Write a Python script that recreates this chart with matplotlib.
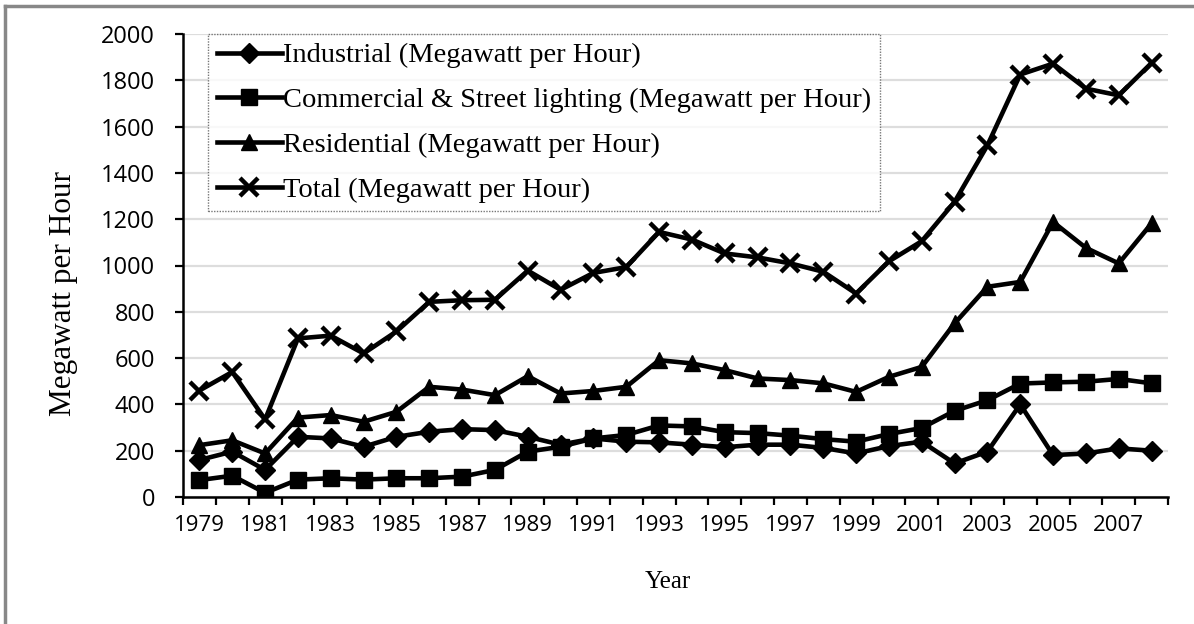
import matplotlib
matplotlib.use("Agg")
import matplotlib.pyplot as plt
from matplotlib.lines import Line2D
import numpy as np

years = list(range(1979, 2009))
industrial = [160, 196, 117, 260, 253, 217, 260, 282, 293, 289,
              260, 226, 253, 239, 236, 226, 215, 226, 226, 212,
              188, 220, 239, 145, 196, 400, 181, 188, 210, 200]
commercial = [73, 92, 18, 75, 81, 75, 81, 81, 88, 117,
              196, 217, 253, 268, 309, 305, 280, 276, 265, 250,
              239, 272, 298, 372, 418, 490, 495, 498, 510, 491]
residential = [224, 245, 188, 343, 354, 325, 368, 476, 464, 440,
               522, 447, 458, 476, 591, 577, 548, 512, 505, 491,
               454, 519, 562, 750, 908, 929, 1188, 1076, 1009, 1182]
total = [460, 540, 335, 685, 697, 620, 715, 843, 850, 852,
         978, 895, 968, 993, 1145, 1112, 1052, 1035, 1009, 973,
         879, 1018, 1105, 1275, 1519, 1825, 1872, 1764, 1735, 1875]

labels = ["Industrial (Megawatt per Hour)",
          "Commercial & Street lighting (Megawatt per Hour)",
          "Residential (Megawatt per Hour)",
          "Total (Megawatt per Hour)"]

fig = plt.figure(figsize=(11.94, 6.24), dpi=100)
ax = fig.add_axes([183/1194, 1-497/624, (1168-183)/1194, (497-34)/624])

x = np.arange(len(years))
lw = 3.3
ax.plot(x, industrial, color='black', lw=lw, marker='D', ms=10.5, label=labels[0])
ax.plot(x, commercial, color='black', lw=lw, marker='s', ms=11, label=labels[1])
ax.plot(x, residential, color='black', lw=lw, marker='^', ms=11.5, label=labels[2])
ax.plot(x, total, color='black', lw=lw, marker='x', ms=13, mew=3.2, label=labels[3])

ax.set_xlim(-0.5, len(years) - 0.5)
ax.set_ylim(0, 2000)
ax.set_yticks(np.arange(0, 2001, 200))
ax.yaxis.grid(True, color='#dddddd', lw=1.6)
ax.set_axisbelow(True)

ax.set_xticks(x[::2])
ax.set_xticklabels([str(y) for y in years[::2]], fontfamily='Open Sans', fontsize=16)
ax.set_xticks(np.arange(-0.5, len(years), 1), minor=True)
ax.tick_params(axis='x', which='major', length=0, pad=13)
ax.tick_params(axis='x', which='minor', length=6, width=1.6, direction='out')
ax.tick_params(axis='y', length=6, width=1.6, direction='out', pad=14)
for t in ax.get_yticklabels():
    t.set_fontfamily('Open Sans')
    t.set_fontsize(17)

for s in ['top', 'right']:
    ax.spines[s].set_visible(False)
for s in ['left', 'bottom']:
    ax.spines[s].set_linewidth(1.8)

ax.set_ylabel("Megawatt per Hour", fontfamily='Liberation Serif', fontsize=22.5)
ax.yaxis.set_label_coords(-(183-78)/985, (497-293)/463)
ax.set_xlabel("Year", fontfamily='Liberation Serif', fontsize=18)
ax.xaxis.set_label_coords((668-183)/985, -(571-497)/463)

leg = ax.legend(loc='upper left', bbox_to_anchor=(25/985, 1.0), frameon=True,
                fancybox=False, prop={'family': 'Liberation Serif', 'size': 20.5},
                handlelength=2.3, handletextpad=0.05, labelspacing=0.66,
                borderpad=0.3, borderaxespad=0)
fr = leg.get_frame()
fr.set_edgecolor('#555555')
fr.set_linestyle((0, (1, 1)))
fr.set_linewidth(1.0)

# figure border (top and left)
fig.add_artist(Line2D([5/1194, 1], [1-6/624, 1-6/624], transform=fig.transFigure, color='#888888', lw=2.5))
fig.add_artist(Line2D([5/1194, 5/1194], [0, 1-6/624], transform=fig.transFigure, color='#888888', lw=2.5))

fig.savefig("out.png", dpi=100)
